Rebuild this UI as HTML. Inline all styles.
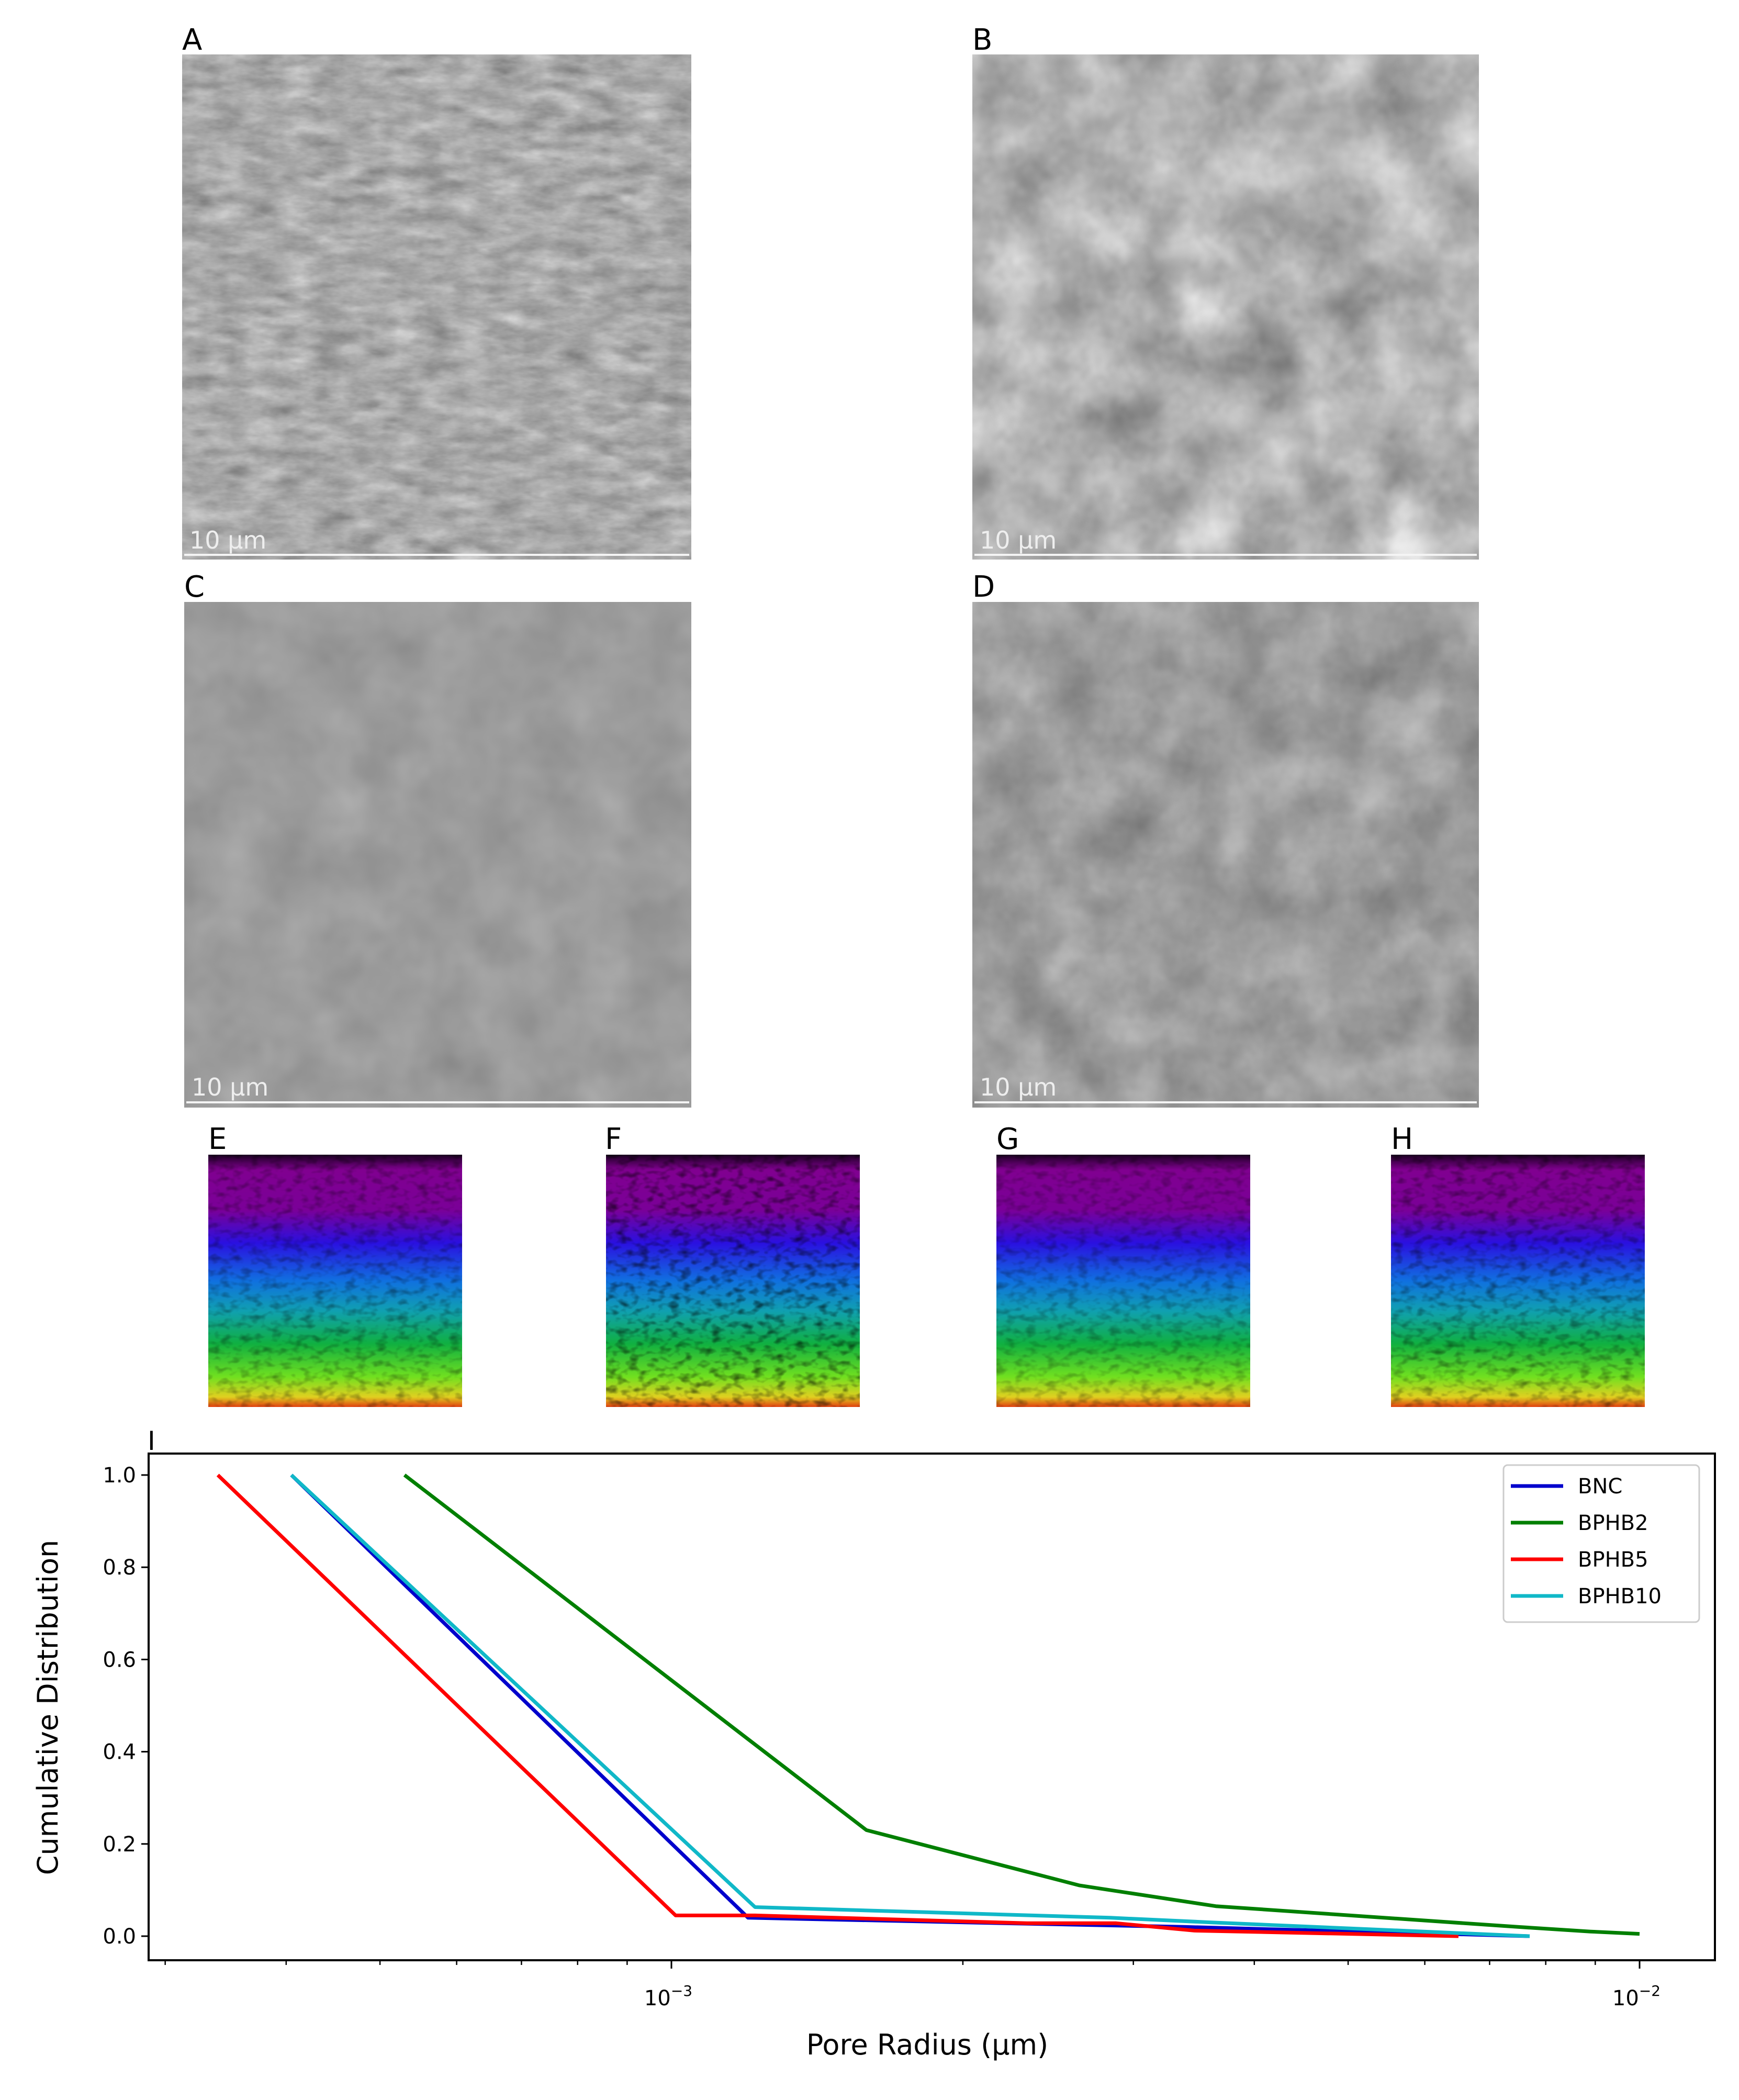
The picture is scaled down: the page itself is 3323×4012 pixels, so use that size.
<!DOCTYPE html>
<html><head><meta charset="utf-8">
<style>
html,body{margin:0;padding:0;background:#fff;}
svg{display:block;}
text{font-family:"DejaVu Sans","Liberation Sans",sans-serif;}
</style></head>
<body>
<svg id="fig" width="3323" height="4012" viewBox="0 0 3323 4012" xmlns="http://www.w3.org/2000/svg">
<defs>
  <filter id="semA" x="0" y="0" width="100%" height="100%" color-interpolation-filters="sRGB">
    <feTurbulence type="fractalNoise" baseFrequency="0.015 0.035" numOctaves="4" seed="3"/>
    <feColorMatrix type="matrix" values="0.2 0.2 0.2 0 0.36  0.2 0.2 0.2 0 0.36  0.2 0.2 0.2 0 0.36  0 0 0 0 1"/>
  </filter>
  <filter id="semB" x="0" y="0" width="100%" height="100%" color-interpolation-filters="sRGB">
    <feTurbulence type="fractalNoise" baseFrequency="0.008" numOctaves="4" seed="7"/>
    <feColorMatrix type="matrix" values="0.3 0.3 0.3 0 0.24  0.3 0.3 0.3 0 0.24  0.3 0.3 0.3 0 0.24  0 0 0 0 1"/>
  </filter>
  <filter id="semC" x="0" y="0" width="100%" height="100%" color-interpolation-filters="sRGB">
    <feTurbulence type="fractalNoise" baseFrequency="0.01" numOctaves="3" seed="11"/>
    <feColorMatrix type="matrix" values="0.08 0.08 0.08 0 0.49  0.08 0.08 0.08 0 0.49  0.08 0.08 0.08 0 0.49  0 0 0 0 1"/>
  </filter>
  <filter id="semD" x="0" y="0" width="100%" height="100%" color-interpolation-filters="sRGB">
    <feTurbulence type="fractalNoise" baseFrequency="0.009" numOctaves="4" seed="5"/>
    <feColorMatrix type="matrix" values="0.18 0.18 0.18 0 0.34  0.18 0.18 0.18 0 0.34  0.18 0.18 0.18 0 0.34  0 0 0 0 1"/>
  </filter>
  <filter id="speck" x="0" y="0" width="100%" height="100%" color-interpolation-filters="sRGB">
    <feTurbulence type="fractalNoise" baseFrequency="0.05 0.08" numOctaves="2" seed="2"/>
    <feColorMatrix type="matrix" values="0 0 0 0 0  0 0 0 0 0  0 0 0 0 0  -2.5 0 0 0 1.35"/>
  </filter>
  <linearGradient id="cmap" x1="0" y1="0" x2="0" y2="1">
    <stop offset="0" stop-color="#1a0020"/>
    <stop offset="0.06" stop-color="#800090"/>
    <stop offset="0.22" stop-color="#7a0098"/>
    <stop offset="0.35" stop-color="#2a10e0"/>
    <stop offset="0.5" stop-color="#1070e0"/>
    <stop offset="0.62" stop-color="#10a0b0"/>
    <stop offset="0.75" stop-color="#10b040"/>
    <stop offset="0.88" stop-color="#70e020"/>
    <stop offset="0.96" stop-color="#e0d020"/>
    <stop offset="1" stop-color="#e04010"/>
  </linearGradient>
</defs>

<g>
  <text x="348" y="95" font-size="56">A</text>
  <rect x="348" y="104" width="973" height="965" filter="url(#semA)"/>
  <text x="362" y="1048" font-size="46" fill="#eee">10 µm</text>
  <rect x="352" y="1058" width="965" height="4" fill="#f4f4f4"/>
</g>
<g>
  <text x="1858" y="95" font-size="56">B</text>
  <rect x="1858" y="104" width="968" height="965" filter="url(#semB)"/>
  <text x="1872" y="1048" font-size="46" fill="#eee">10 µm</text>
  <rect x="1862" y="1058" width="960" height="4" fill="#f4f4f4"/>
</g>
<g>
  <text x="352" y="1140" font-size="56">C</text>
  <rect x="352" y="1150" width="969" height="966" filter="url(#semC)"/>
  <text x="366" y="2093" font-size="46" fill="#eee">10 µm</text>
  <rect x="356" y="2104" width="961" height="4" fill="#f4f4f4"/>
</g>
<g>
  <text x="1858" y="1140" font-size="56">D</text>
  <rect x="1858" y="1150" width="968" height="966" filter="url(#semD)"/>
  <text x="1872" y="2093" font-size="46" fill="#eee">10 µm</text>
  <rect x="1862" y="2104" width="960" height="4" fill="#f4f4f4"/>
</g>

<g>
  <text x="398" y="2195" font-size="56">E</text>
  <rect x="398" y="2206" width="485" height="482" fill="url(#cmap)"/>
  <rect x="398" y="2206" width="485" height="482" filter="url(#speck)" opacity="0.35"/>
</g>
<g>
  <text x="1156" y="2195" font-size="56">F</text>
  <rect x="1158" y="2206" width="485" height="482" fill="url(#cmap)"/>
  <rect x="1158" y="2206" width="485" height="482" filter="url(#speck)" opacity="0.55"/>
</g>
<g>
  <text x="1904" y="2195" font-size="56">G</text>
  <rect x="1904" y="2206" width="485" height="482" fill="url(#cmap)"/>
  <rect x="1904" y="2206" width="485" height="482" filter="url(#speck)" opacity="0.3"/>
</g>
<g>
  <text x="2658" y="2195" font-size="56">H</text>
  <rect x="2658" y="2206" width="485" height="482" fill="url(#cmap)"/>
  <rect x="2658" y="2206" width="485" height="482" filter="url(#speck)" opacity="0.4"/>
</g>

<g id="chart">
  <text x="282" y="2770" font-size="50">I</text>
</g>
</svg>
<script>
const seriesNames = ["BNC", "BPHB2", "BPHB5", "BPHB10"];
const seriesColors = ["#0000cc", "#007f00", "#ff0000", "#10b8c8"];
const bncX = [4.05e-4, 1.2e-3, 2.0e-3, 3.4e-3, 7.7e-3];
const bncY = [1.0, 0.04, 0.03, 0.02, 0.0];
const bphb2X = [5.3e-4, 1.59e-3, 2.64e-3, 3.65e-3, 7.5e-3, 8.9e-3, 1.0e-2];
const bphb2Y = [1.0, 0.23, 0.11, 0.065, 0.02, 0.01, 0.005];
const bphb5X = [3.4e-4, 1.01e-3, 1.22e-3, 2.33e-3, 2.88e-3, 3.47e-3, 6.5e-3];
const bphb5Y = [1.0, 0.045, 0.045, 0.028, 0.028, 0.012, 0.0];
const bphb10X = [4.05e-4, 1.22e-3, 2.84e-3, 3.6e-3, 7.7e-3];
const bphb10Y = [1.0, 0.063, 0.04, 0.03, 0.0];
const yTicks = [0.0, 0.2, 0.4, 0.6, 0.8, 1.0];
const xMajorTicks = [-3, -2];

const NS = "http://www.w3.org/2000/svg";
const L = 284, R = 3277, T = 2777, B = 3745;
function xs(v){ return 1283 + (Math.log10(v) + 3) * 1850; }
function ys(v){ return 3699 - v * 881; }
const chart = document.getElementById('chart');
function mk(tag, attrs, parent){
  const e = document.createElementNS(NS, tag);
  for (const k in attrs) e.setAttribute(k, attrs[k]);
  (parent || chart).appendChild(e);
  return e;
}
const frame = mk('rect', {x:L, y:T, width:R-L, height:B-T, fill:'none', stroke:'#000', 'stroke-width':4});


yTicks.forEach(v => {
  const y = ys(v);
  const t = mk('line', {x1:L-14, x2:L, y1:y, y2:y, stroke:'#000', 'stroke-width':3});
  
  
  const lb = mk('text', {x:L-24, y:y+14, 'font-size':40, 'text-anchor':'end'});
  lb.textContent = v.toFixed(1);
  
  
});
for (let d = -4; d <= -2; d++) {
  for (let m = 2; m <= 9; m++) {
    const v = m * Math.pow(10, d);
    const x = xs(v);
    if (x < L || x > R) continue;
    const t = mk('line', {x1:x, x2:x, y1:B, y2:B+9, stroke:'#000', 'stroke-width':2.5});
    
    
  }
}
xMajorTicks.forEach(p => {
  const x = xs(Math.pow(10, p));
  const t = mk('line', {x1:x, x2:x, y1:B, y2:B+16, stroke:'#000', 'stroke-width':3});
  
  
  const lb = mk('text', {x:x-6, y:B+86, 'font-size':40, 'text-anchor':'middle'});
  
  
  lb.textContent = '10';
  const sup = mk('tspan', {'font-size':28, dy:-18}, lb);
  sup.textContent = '\u2212' + Math.abs(p);
});
const xt = mk('text', {x:1772, y:3925, 'font-size':54, 'text-anchor':'middle'});
xt.textContent = 'Pore Radius (µm)';


const yt = mk('text', {x:0, y:0, 'font-size':54, 'text-anchor':'middle', transform:'translate(110,3262) rotate(-90)'});
yt.textContent = 'Cumulative Distribution';


const allX = [bncX, bphb2X, bphb5X, bphb10X];
const allY = [bncY, bphb2Y, bphb5Y, bphb10Y];
[0, 1, 2, 3].forEach(i => {
  const pts = allX[i].map((v, j) => xs(v).toFixed(1) + ',' + ys(allY[i][j]).toFixed(1)).join(' ');
  const pl = mk('polyline', {points:pts, fill:'none', stroke:seriesColors[i], 'stroke-width':7, 'stroke-linejoin':'round'});
  
  
});
const lg = mk('g', {});


const lbx = mk('rect', {x:2873, y:2799, width:374, height:300, rx:8, fill:'#fff', 'fill-opacity':0.85, stroke:'#ccc', 'stroke-width':3}, lg);


seriesNames.forEach((n, i) => {
  const y = 2839 + i * 70;
  const ln = mk('line', {x1:2887, x2:2987, y1:y, y2:y, stroke:seriesColors[i], 'stroke-width':7}, lg);
  
  
  const tx = mk('text', {x:3015, y:y+14, 'font-size':40}, lg);
  tx.textContent = n;
  
  
});
</script>
</body></html>
